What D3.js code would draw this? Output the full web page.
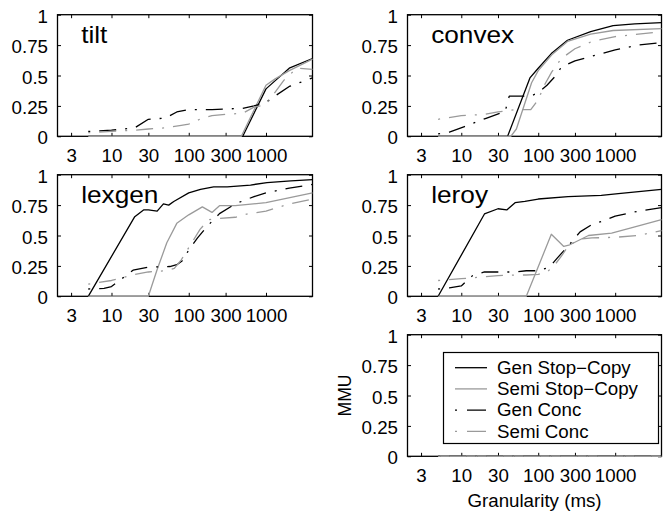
<!DOCTYPE html>
<html><head><meta charset="utf-8">
<script src="https://cdn.jsdelivr.net/npm/d3@7"></script>
<style>html,body{margin:0;padding:0;background:#fff;} svg{display:block;}</style>
</head><body><svg id="c" width="670" height="512"></svg>
<script>
// ---------- data ----------
const xTickValues = [3, 10, 30, 100, 300, 1000];
const xTickLabels = ["3", "10", "30", "100", "300", "1000"];
const yTickValues = [0, 0.25, 0.5, 0.75, 1];
const yTickLabels = ["0", "0.25", "0.5", "0.75", "1"];
const seriesNames = ["Gen Stop\u2212Copy", "Semi Stop\u2212Copy", "Gen Conc", "Semi Conc"];
const panelTitles = ["tilt", "convex", "lexgen", "leroy", ""];
const xLabel = "Granularity (ms)";
const yLabel = "MMU";

// [granularity ms, MMU]
const tiltGenStop  = [[5,0],[500,0],[1000,0.39],[1330,0.46],[2000,0.56],[4000,0.64]];
const tiltSemiStop = [[5,0],[480,0],[1000,0.42],[1300,0.47],[2000,0.54],[4000,0.635]];
const tiltGenConc  = [[5,0.04],[10,0.05],[20,0.07],[30,0.14],[50,0.15],[70,0.2],[100,0.22],[200,0.22],[500,0.23],[700,0.25],[1000,0.28],[1300,0.33],[2000,0.41],[4000,0.48]];
const tiltSemiConc = [[5,0.03],[10,0.04],[20,0.05],[30,0.06],[50,0.07],[80,0.09],[100,0.1],[150,0.15],[200,0.17],[300,0.18],[500,0.19],[700,0.24],[1000,0.26],[1300,0.36],[1700,0.46],[2500,0.56],[4000,0.55]];

const convexGenStop  = [[5,0],[40,0],[78,0.48],[100,0.56],[148,0.68],[240,0.79],[480,0.86],[940,0.91],[1800,0.925],[4000,0.935]];
const convexSemiStop = [[5,0],[44,0],[52,0.06],[82,0.44],[100,0.54],[150,0.67],[240,0.78],[480,0.84],[940,0.87],[4000,0.885]];
const convexGenConc  = [[5,0.02],[7,0.035],[11,0.08],[21,0.148],[32,0.19],[37,0.2],[42,0.33],[80,0.33],[100,0.36],[130,0.42],[170,0.5],[200,0.57],[300,0.62],[500,0.66],[1000,0.71],[2000,0.75],[4000,0.77]];
const convexSemiConc = [[5,0.14],[10,0.17],[20,0.18],[30,0.2],[50,0.22],[80,0.22],[100,0.3],[120,0.42],[150,0.53],[200,0.64],[300,0.72],[500,0.78],[1000,0.82],[4000,0.86]];

const lexgenGenStop  = [[5,0],[20,0.655],[26,0.71],[30,0.71],[39,0.7],[47,0.76],[55,0.75],[64,0.78],[100,0.85],[142,0.88],[210,0.9],[315,0.9],[630,0.915],[1030,0.935],[2100,0.95],[4000,0.96]];
const lexgenSemiStop = [[5,0],[30,0],[39,0.22],[52,0.44],[70,0.6],[100,0.67],[150,0.735],[200,0.69],[250,0.745],[400,0.745],[1000,0.77],[4000,0.85]];
const lexgenGenConc  = [[5,0.06],[8,0.065],[10,0.08],[19,0.215],[30,0.24],[57,0.245],[70,0.26],[82,0.29],[100,0.38],[130,0.48],[170,0.57],[250,0.68],[400,0.76],[700,0.82],[1000,0.85],[2000,0.89],[4000,0.92]];
const lexgenSemiConc = [[5,0.1],[10,0.13],[20,0.18],[30,0.2],[50,0.21],[65,0.23],[80,0.3],[100,0.4],[140,0.55],[180,0.63],[250,0.64],[400,0.65],[600,0.68],[1000,0.7],[2000,0.76],[4000,0.8]];

const leroyGenStop  = [[5,0],[20,0.677],[30,0.72],[39,0.71],[50,0.77],[67,0.78],[100,0.8],[244,0.82],[660,0.83],[1100,0.845],[4000,0.88]];
const leroySemiStop = [[5,0],[70,0],[148,0.51],[215,0.41],[250,0.42],[450,0.5],[900,0.52],[1800,0.57],[4000,0.63]];
const leroyGenConc  = [[5,0.06],[7,0.07],[10,0.085],[14,0.17],[20,0.2],[30,0.2],[50,0.2],[70,0.21],[100,0.21],[140,0.24],[180,0.32],[250,0.42],[350,0.53],[500,0.59],[700,0.62],[1000,0.66],[2000,0.7],[4000,0.73]];
const leroySemiConc = [[5,0.13],[10,0.145],[20,0.16],[30,0.17],[50,0.175],[70,0.175],[100,0.18],[130,0.2],[160,0.25],[200,0.33],[250,0.42],[350,0.47],[500,0.48],[1000,0.485],[2000,0.5],[4000,0.54]];

const legendGenStop  = [[5,0],[4000,0]];
const legendSemiStop = [[5,0],[4000,0]];
const legendGenConc  = [[5,0],[4000,0]];
const legendSemiConc = [[5,0],[4000,0]];

const xDomain = [2, 4000];
const yDomain = [0, 1];

// ---------- layout / style ----------
const panelData = [
  [tiltGenStop, tiltSemiStop, tiltGenConc, tiltSemiConc],
  [convexGenStop, convexSemiStop, convexGenConc, convexSemiConc],
  [lexgenGenStop, lexgenSemiStop, lexgenGenConc, lexgenSemiConc],
  [leroyGenStop, leroySemiStop, leroyGenConc, leroySemiConc],
  [legendGenStop, legendSemiStop, legendGenConc, legendSemiConc]
];
const panelBoxes = [
  {x: 57.5, y: 14.7, w: 255, h: 121.6},
  {x: 407.5, y: 14.7, w: 254, h: 121.6},
  {x: 57.5, y: 174.7, w: 255, h: 121.6},
  {x: 407.5, y: 174.7, w: 254, h: 121.6},
  {x: 407.5, y: 334.7, w: 254, h: 121.6}
];
const DASHDOT = "2,9,17,9";
const styles = [
  {color: "#000", dash: null},
  {color: "#9a9a9a", dash: null},
  {color: "#000", dash: DASHDOT},
  {color: "#9a9a9a", dash: DASHDOT}
];
const FONT = "'Liberation Sans', Arial, Helvetica, sans-serif";
const SX = 1.07;
const FS = 17.5;

const svg = d3.select("#c");

function txt(g, x, y, s, size, anchor, rot) {
  return g.append("text")
    .attr("transform", `translate(${x},${y}) scale(${SX},1)` + (rot ? ` rotate(${rot})` : ""))
    .attr("font-family", FONT).attr("font-size", size)
    .attr("text-anchor", anchor).attr("fill", "#000").text(s);
}

panelBoxes.forEach((b, pi) => {
  const g = svg.append("g").attr("transform", `translate(${b.x},${b.y})`);
  const x = d3.scaleLog().domain(xDomain).range([0, b.w]);
  const y = d3.scaleLinear().domain(yDomain).range([b.h, 0]);

  g.append("rect").attr("width", b.w).attr("height", b.h)
    .attr("fill", "#fff").attr("stroke", "#000").attr("stroke-width", 1.3);

  const tk = 3.5;
  const ax = (gen, tx, ty) => {
    const a = g.append("g").attr("transform", `translate(${tx},${ty})`).call(gen);
    a.select(".domain").remove();
    a.selectAll("line").attr("stroke", "#000").attr("stroke-width", 1);
    return a;
  };
  const bottom = ax(d3.axisBottom(x).tickValues(xTickValues).tickFormat((d, i) => xTickLabels[i]).tickSizeInner(-tk).tickSizeOuter(0), 0, b.h);
  bottom.selectAll("text").attr("y", null).attr("dy", null)
    .attr("transform", `translate(0,26) scale(${SX},1)`)
    .attr("font-family", FONT).attr("font-size", FS).attr("fill", "#000");
  ax(d3.axisTop(x).tickValues(xTickValues).tickFormat("").tickSizeInner(-tk).tickSizeOuter(0), 0, 0);
  const left = ax(d3.axisLeft(y).tickValues(yTickValues).tickFormat((d, i) => yTickLabels[i]).tickSizeInner(-tk).tickSizeOuter(0), 0, 0);
  left.selectAll("text").attr("x", null).attr("dy", null)
    .attr("transform", `translate(-9.5,7.5) scale(${SX},1)`)
    .attr("font-family", FONT).attr("font-size", FS).attr("fill", "#000");
  ax(d3.axisRight(y).tickValues(yTickValues).tickFormat("").tickSizeInner(-tk).tickSizeOuter(0), b.w, 0);

  const line = d3.line().x(d => x(d[0])).y(d => y(d[1]));
  panelData[pi].forEach((ser, si) => {
    g.append("path").datum(ser).attr("d", line)
      .attr("fill", "none").attr("stroke", styles[si].color)
      .attr("stroke-width", 1.3)
      .attr("stroke-dasharray", styles[si].dash)
      .attr("stroke-linejoin", "round");
  });

  if (panelTitles[pi]) txt(g, 23.7, 28.6, panelTitles[pi], 24.5, "start");
});

// axis labels (bottom-right panel)
const lb = panelBoxes[4];
txt(svg, lb.x + lb.w / 2, 507, xLabel, FS, "middle");
txt(svg, 351, lb.y + lb.h / 2, yLabel, FS, "middle", -90);

// legend
const lg = svg.append("g");
lg.append("rect").attr("x", 443.5).attr("y", 352.5).attr("width", 215).attr("height", 91)
  .attr("fill", "#fff").attr("stroke", "#000").attr("stroke-width", 1.2);
seriesNames.forEach((name, i) => {
  const cy = 367.7 + i * 21.2;
  lg.append("line").attr("x1", 455).attr("x2", 487).attr("y1", cy).attr("y2", cy)
    .attr("stroke", styles[i].color).attr("stroke-width", 1.3)
    .attr("stroke-dasharray", styles[i].dash ? "2,10,19,10" : null);
  txt(lg, 497, cy + 6.2, name, FS, "start");
});
</script></body></html>
